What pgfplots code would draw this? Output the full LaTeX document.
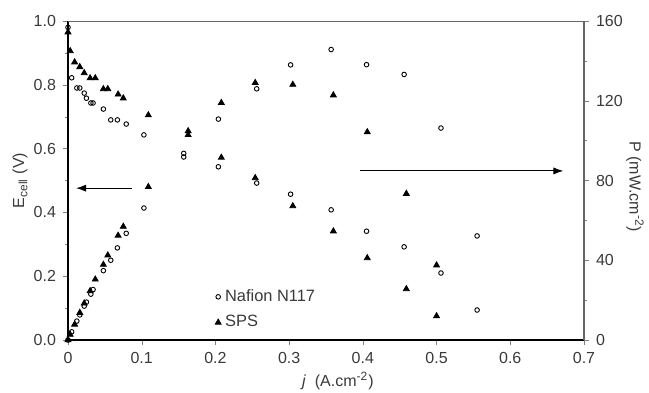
\documentclass[border=0pt]{standalone}
\usepackage{fontspec}
\setmainfont{Liberation Sans}
\usepackage{pgfplots}
\usepackage{pgfplotstable}
\usetikzlibrary{arrows.meta}
\pgfplotsset{compat=1.18}
\definecolor{txt}{HTML}{3A3A3A}
\definecolor{axg}{HTML}{666666}

\pgfplotstableread{
j E P
0.000 0.980 0.0
0.005 0.822 4.1
0.012 0.790 9.5
0.016 0.790 12.6
0.022 0.774 17.0
0.025 0.758 19.0
0.031 0.743 23.0
0.034 0.743 25.3
0.048 0.724 34.8
0.058 0.690 40.0
0.067 0.690 46.2
0.079 0.677 53.5
0.103 0.643 66.2
0.157 0.585 91.8
0.204 0.543 110.8
0.256 0.492 126.0
0.302 0.457 138.0
0.357 0.408 145.7
0.405 0.341 138.1
0.456 0.292 133.2
0.506 0.210 106.3
0.555 0.094 52.2
}\nafion

\pgfplotstableread{
j E P
0.000 0.965 0.0
0.003 0.906 2.7
0.009 0.871 7.8
0.016 0.856 13.7
0.022 0.837 18.4
0.030 0.821 24.6
0.037 0.821 30.4
0.048 0.787 37.8
0.054 0.787 42.5
0.068 0.770 52.4
0.075 0.758 56.9
0.109 0.705 76.8
0.163 0.643 104.8
0.208 0.572 119.0
0.254 0.508 129.0
0.305 0.420 128.1
0.360 0.341 122.8
0.406 0.257 104.3
0.459 0.160 73.4
0.500 0.075 37.5
}\sps

\pgfplotsset{
  base/.style={
    scale only axis, width=258pt, height=159.5pt,
    at={(0,0)}, anchor=south west,
    xmin=0, xmax=0.7,
    font=\fontsize{8}{9.6}\selectfont,
    /pgf/number format/assume math mode=true,
    tick label style={text=txt},
    label style={text=txt},
    tick align=outside,
    major tick length=2.5pt, minor tick length=1.6pt,
  },
  nafmark/.style={only marks, mark=o, mark size=1.15pt, black, mark options={line width=0.45pt}},
  spsmark/.style={only marks, mark=triangle*, mark size=1.7pt, black},
}

\begin{document}
\begin{tikzpicture}
\useasboundingbox (-34pt,-26pt) rectangle (290.5pt,170pt);
\begin{axis}[base, name=ax,
  axis x line*=bottom, axis y line*=left,
  ymin=0, ymax=1.0,
  xtick={0,0.1,0.2,0.3,0.4,0.5,0.6,0.7},
  xticklabels={0,0.1,0.2,0.3,0.4,0.5,0.6,0.7},
  ytick={0,0.2,0.4,0.6,0.8,1.0},
  yticklabels={0.0,0.2,0.4,0.6,0.8,1.0},
  minor y tick num=1,
  x axis line style={black, line width=0.6pt},
  y axis line style={black, line width=0.6pt},
  xlabel={\textit{j}\ \ (A.cm\textsuperscript{-2})},
  ylabel={E\textsubscript{cell} (V)},
  xlabel style={at={(axis description cs:0.523,-0.128)}, anchor=center},
  ylabel style={at={(axis description cs:-0.093,0.5)}, anchor=center},
  legend style={draw=none, fill=none, at={(rel axis cs:0.273,0.185)}, anchor=north west,
    font=\fontsize{8.2}{10}\selectfont, text=txt, row sep=1.5pt,
    legend cell align=left},
]
\addplot[nafmark] table[x=j,y=E]{\nafion};
\addlegendentry{Nafion N117}
\addplot[spsmark] table[x=j,y=E]{\sps};
\addlegendentry{SPS}
\draw[axg, line width=0.8pt] (rel axis cs:0,1) -- (rel axis cs:1,1);
\draw[-{Latex[length=5pt,width=3.6pt]}, line width=0.5pt] (axis cs:0.087,0.476) -- (axis cs:0.011,0.476);
\draw[-{Latex[length=5pt,width=3.6pt]}, line width=0.5pt] (axis cs:0.396,0.53) -- (axis cs:0.672,0.53);
\end{axis}
\begin{axis}[base,
  axis x line=none, axis y line*=right,
  ymin=0, ymax=160,
  ytick={0,40,80,120,160},
  minor y tick num=1,
  y axis line style={axg, line width=0.8pt},
  ylabel={P (mW.cm\textsuperscript{-2})},
  ylabel style={rotate=180, at={(axis description cs:1.099,0.48)}, anchor=center},
]
\addplot[nafmark] table[x=j,y=P]{\nafion};
\addplot[spsmark] table[x=j,y=P]{\sps};
\end{axis}
\end{tikzpicture}
\end{document}
